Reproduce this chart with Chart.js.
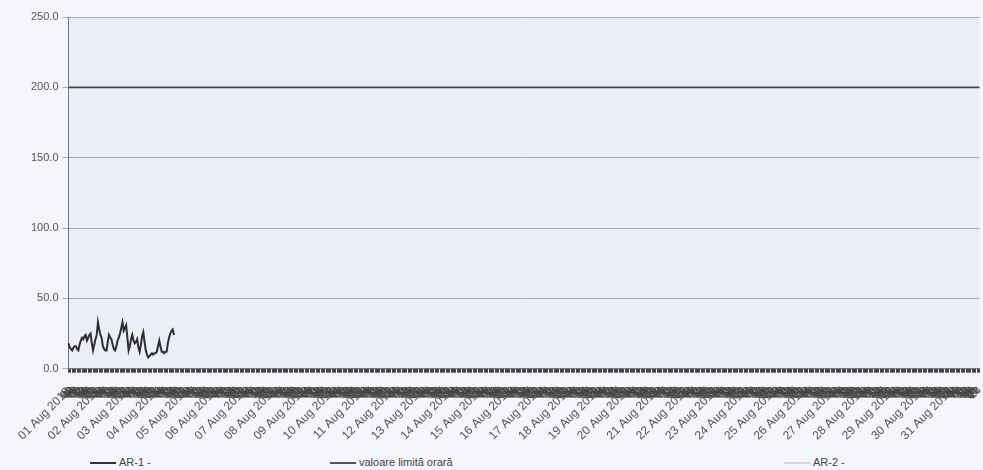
<!DOCTYPE html>
<html>
<head>
<meta charset="utf-8">
<script src="https://cdn.jsdelivr.net/npm/chart.js@4.4.1/dist/chart.umd.min.js"></script>
<style>
  html, body { margin: 0; padding: 0; background: #f4f6fb; overflow: hidden; }
  #wrap { position: relative; width: 1000px; height: 470px; }
  #box { position: absolute; left: 0; top: 0; width: 1000px; height: 455px; }
  .leg { position: absolute; top: 456px; font: 11px "Liberation Sans", Arial, sans-serif; color: #444; white-space: nowrap; }
  .leg span { display: inline-block; width: 26px; height: 0; border-top: 2px solid #333; vertical-align: middle; margin-right: 3px; }
</style>
</head>
<body>
<div id="wrap">
  <div id="box"><canvas id="myChart"></canvas></div>
  <div class="leg" style="left:90px"><span></span>AR-1 -</div>
  <div class="leg" style="left:330px"><span style="border-color:#555"></span>valoare limită orară</div>
  <div class="leg" style="left:784px"><span style="border-color:#d4d6dc"></span>AR-2 -</div>
</div>
<script>
// Days and hours of the month
const days = ["01","02","03","04","05","06","07","08","09","10","11","12","13","14","15","16",
              "17","18","19","20","21","22","23","24","25","26","27","28","29","30","31"]
const hours = ["00","01","02","03","04","05","06","07","08","09","10","11",
               "12","13","14","15","16","17","18","19","20","21","22","23"]

// AR-1 hourly values (only first days measured)
const ar1 = [18,15,14,13,15,16,16,14,13,17,20,22,21,23,24,20,22,24,25,18,13,17,21,24,
             33,28,24,22,16,14,13,13,19,24,22,21,17,14,13,16,20,22,25,29,33,27,29,31,
             22,13,16,21,24,20,18,19,21,15,12,17,23,26,19,13,10,8,9,10,11,10,11,11,
             12,16,20,16,12,12,11,12,12,18,22,25,27,28,24]
const ar2 = []
const limitValue = 200

const yTicks = [0, 50, 100, 150, 200, 250]

// build the category labels
var labels = []
for (var d = 0; d < days.length; d++) {
    for (var h = 0; h < hours.length; h++) {
        labels.push(days[d] + " Aug 2015 " + hours[h])
    }
}

function isDayStart(i) {
    return i % 24 == 0
}

const bgPlugin = {
    id: 'plotBg',
    beforeDraw(chart) {
        const a = chart.chartArea
        const ctx = chart.ctx
        ctx.save()
        ctx.fillStyle = '#eceef7'
        ctx.fillRect(a.left, a.top, a.right - a.left, a.bottom - a.top)
        ctx.restore()
    }
}

const data = {
    labels: labels,
    datasets: [{
        label: 'AR-1 -',
        data: ar1,
        borderColor: '#2e2e2e',
        borderWidth: 2,
        pointRadius: 0,
        tension: 0
    }, {
        label: 'valoare limită orară',
        data: [{x: labels[0], y: limitValue}, {x: labels[labels.length - 1], y: limitValue}],
        borderColor: '#444',
        borderWidth: 1.8,
        pointRadius: 0
    }, {
        label: 'AR-2 -',
        data: ar2,
        borderColor: '#d4d6dc',
        borderWidth: 1,
        pointRadius: 0
    }]
}

const config = {
    type: 'line',
    data: data,
    plugins: [bgPlugin],
    options: {
        responsive: true,
        maintainAspectRatio: false,
        animation: false,
        layout: { padding: { top: 17, right: 0, left: 27, bottom: 0 } },
        plugins: { legend: { display: false }, tooltip: { enabled: false } },
        scales: {
            x: {
                offset: false,
                grid: { drawOnChartArea: false, drawTicks: true, tickLength: 4, color: '#444', lineWidth: 1 },
                border: { color: '#777' },
                ticks: {
                    autoSkip: false,
                    maxRotation: 45,
                    minRotation: 45,
                    padding: 12,
                    color: function (c) { return isDayStart(c.index) ? '#555' : '#444' },
                    font: function (c) {
                        return { family: 'Liberation Sans', size: isDayStart(c.index) ? 12 : 10 }
                    },
                    callback: function (val, i) {
                        var lab = labels[i]
                        if (isDayStart(i)) return lab.slice(0, 11)
                        return lab.slice(-2)
                    }
                }
            },
            y: {
                min: 0,
                max: 250,
                afterBuildTicks: function (axis) {
                    axis.ticks = yTicks.map(function (v) { return { value: v } })
                },
                grid: { color: '#a8aab0', tickLength: 6, lineWidth: 1 },
                border: { color: '#777' },
                ticks: {
                    color: '#555',
                    font: { family: 'Liberation Sans', size: 11 },
                    padding: 4,
                    callback: function (v) { return Number(v).toFixed(1) }
                }
            }
        }
    }
}

const myChart = new Chart(document.getElementById('myChart'), config)
</script>
</body>
</html>
